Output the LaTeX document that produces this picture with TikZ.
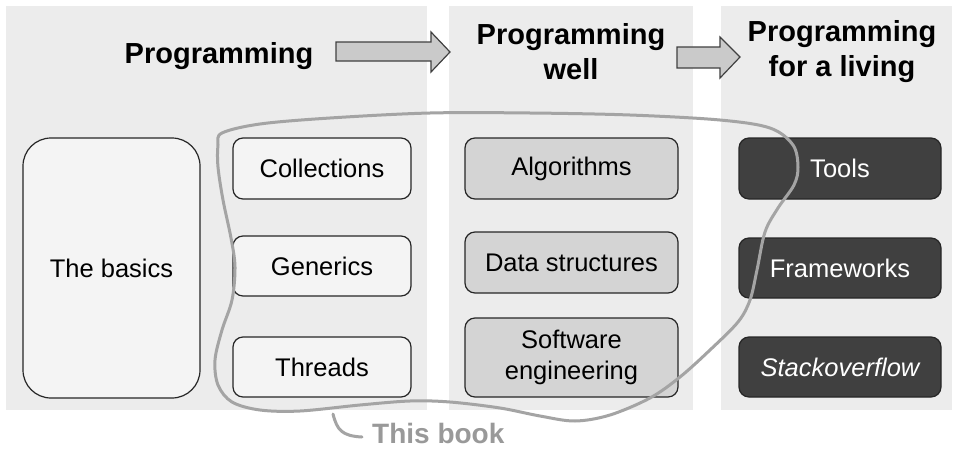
\documentclass[tikz,border=0pt]{standalone}
\usepackage{fontspec}
\setmainfont{Liberation Sans}
\definecolor{panelgray}{HTML}{ECECEC}
\definecolor{lightbox}{HTML}{F4F4F4}
\definecolor{midbox}{HTML}{D4D4D4}
\definecolor{darkbox}{HTML}{404040}
\definecolor{arrowfill}{HTML}{CACACA}
\definecolor{blobgray}{HTML}{A4A4A4}
\definecolor{booktext}{HTML}{999999}
\tikzset{
  panel/.style={fill=panelgray, draw=none},
  basebox/.style={draw=black!85, line width=1.2pt, rounded corners=10pt, minimum height=61pt, inner sep=0pt, font=\fontsize{25.5}{31}\selectfont, align=center},
  lightnode/.style={basebox, fill=lightbox, minimum width=178pt},
  midnode/.style={basebox, fill=midbox, minimum width=213pt},
  darknode/.style={basebox, fill=darkbox, text=white, minimum width=202pt},
  titletext/.style={font=\fontsize{29}{35}\selectfont\bfseries, align=center, inner sep=0pt},
  blockarrow/.style={fill=arrowfill, draw=black!75, line width=1.2pt, line join=miter},
  bookline/.style={draw=blobgray, line width=3pt, line cap=round, line join=round},
}
\begin{document}
\begin{tikzpicture}[x=1pt, y=-1pt]
\fill[white] (0,0) rectangle (954,450);
\useasboundingbox (0,0) rectangle (954,450);
% panels
\fill[panel] (6,6) rectangle (427,410);
\fill[panel] (449,6) rectangle (693,410);
\fill[panel] (721,6) rectangle (952,410);
% titles
\node[titletext, anchor=base] (t1) at (219,63) {Programming};
\node[titletext] (t2) at (571,52) {Programming\\well};
\node[titletext] (t3) at (842,52) {Programming\\for a living};
% block arrows
\draw[blockarrow] (336,42) -- (431,42) -- (431,32) -- (450,52) -- (431,72) -- (431,61) -- (336,61) -- cycle;
\draw[blockarrow] (677,47) -- (720,47) -- (720,37) -- (740,57) -- (720,78) -- (720,68) -- (677,68) -- cycle;
% left column
\node[lightnode, minimum width=177pt, minimum height=260pt, rounded corners=28pt] (basics) at (111.5,268) {The basics};
\node[lightnode] (coll) at (322,168.5) {Collections};
\node[lightnode, minimum height=60pt] (gen) at (322,266) {Generics};
\node[lightnode, minimum height=60pt] (thr) at (322,367) {Threads};
% middle column
\node[midnode] (algo) at (571.5,168.5) {Algorithms};
\node[midnode] (data) at (571.5,262.5) {Data structures};
\node[midnode, minimum height=79pt] (soft) at (571.5,357.5) {Software\\engineering};
% right column
\node[darknode] (tools) at (840,168.5) {Tools};
\node[darknode, minimum height=60pt] (frame) at (840,268) {Frameworks};
\node[darknode, minimum height=60pt] (stack) at (840,367) {\itshape Stackoverflow};
% this book outline
\draw[bookline] plot[smooth cycle, tension=0.55] coordinates {
 (222,133) (260,124) (330,118) (430,113) (530,113) (630,115) (720,120) (770,128)
 (793,145) (798,167) (794,185) (778,208) (765,232) (757,270) (750,300) (738,322)
 (710,350) (680,377) (650,398) (610,415) (575,421) (540,416) (500,408) (450,402)
 (410,401) (360,405) (300,411) (260,410) (232,402) (218,385) (215,360) (222,330)
 (232,300) (235,267) (231,238) (223,200) (218,167) (218,145)};
% label
\coordinate (hookstart) at (333,414);
\node[font=\fontsize{28}{34}\selectfont\bfseries, text=booktext, anchor=base west, inner sep=0pt] (book) at (372,443) {This book};
\coordinate (hookend) at (362,437);
\draw[bookline] (hookstart) .. controls (337,430) and (342,436) .. (hookend);
\end{tikzpicture}
\end{document}
